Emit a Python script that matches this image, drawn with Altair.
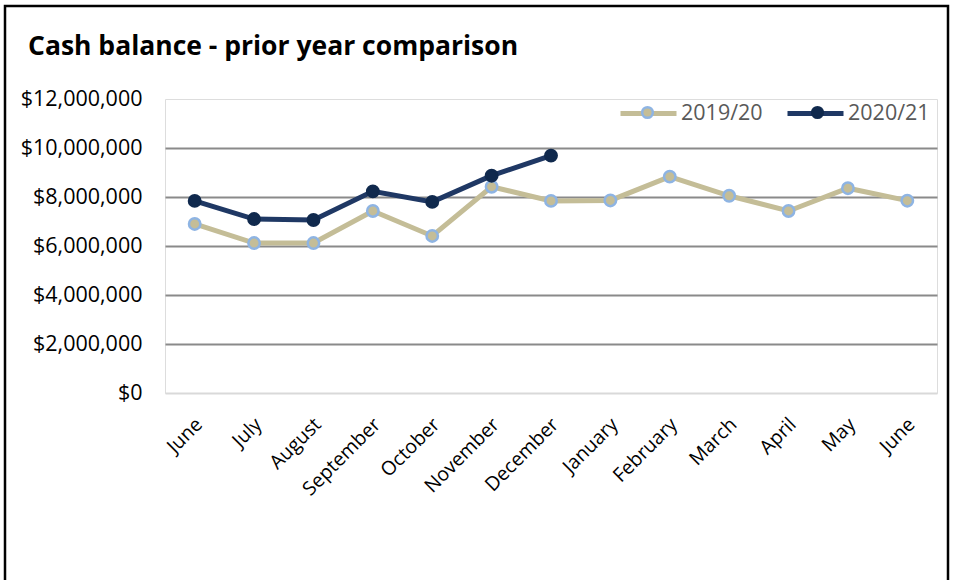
import altair as alt
import pandas as pd

months = ["June", "July", "August", "September", "October", "November", "December",
          "January", "February", "March", "April", "May", "June"]
series_names = ["2019/20", "2020/21"]
prior_year = [6900000, 6120000, 6120000, 7430000, 6410000, 8420000, 7840000,
              7860000, 8830000, 8050000, 7430000, 8360000, 7850000]
current_year = [7840000, 7100000, 7060000, 8230000, 7800000, 8870000, 9690000]
y_ticks = [0, 2000000, 4000000, 6000000, 8000000, 10000000, 12000000]

line_colors = ["#c4bd97", "#1f3864"]
marker_fills = ["#c4bd97", "#10294d"]
marker_strokes = ["#8eb4e3", "#10294d"]

keys = [f"{i:02d}|{m}" for i, m in enumerate(months)]
rows = []
for name, vals in zip(series_names, [prior_year, current_year]):
    for k, v in zip(keys, vals):
        rows.append({"month": k, "series": name, "series_pt": name, "value": v})
df = pd.DataFrame(rows)

FONT = "Open Sans"

x_enc = alt.X("month:N", sort=keys, title=None,
              scale=alt.Scale(type="point", padding=0.5),
              axis=alt.Axis(labelExpr="split(datum.value, '|')[1]", labelAngle=-45,
                            labelAlign="right", labelBaseline="middle",
                            labelPadding=28, labelOffset=4, ticks=False,
                            domainColor="#d9d9d9", domainWidth=2,
                            labelFont=FONT, labelFontSize=19.5, labelColor="#000000"))
y_enc = alt.Y("value:Q", title=None,
              scale=alt.Scale(domain=[0, 12000000], nice=False),
              axis=alt.Axis(values=y_ticks, format="$,.0f", domain=False, ticks=False,
                            tickSize=0, labelPadding=23,
                            labelFont=FONT, labelFontSize=21.5, labelColor="#000000",
                            gridColor={"condition": {"test": "datum.value >= 12000000 || datum.value <= 0",
                                                     "value": "transparent"},
                                       "value": "#8a8a8a"},
                            gridWidth=2))

base = alt.Chart(df)

lines = base.mark_line(strokeWidth=5).encode(
    x=x_enc, y=y_enc,
    color=alt.Color("series:N", title=None,
                    scale=alt.Scale(domain=series_names, range=line_colors),
                    legend=alt.Legend(orient="none", direction="horizontal",
                                      legendX=453, legendY=-16, padding=0,
                                      symbolType="M-1,0H1", symbolSize=3136,
                                      symbolStrokeWidth=5, labelOffset=2,
                                      columnPadding=14,
                                      labelFont=FONT, labelFontSize=21.5,
                                      labelColor="#595959")),
    detail="series:N",
)

points = base.mark_point(filled=True, size=130, strokeWidth=2.5, opacity=1).encode(
    x=x_enc, y=y_enc,
    fill=alt.Fill("series_pt:N", title=None,
                  scale=alt.Scale(domain=series_names, range=marker_fills),
                  legend=alt.Legend(orient="none", direction="horizontal",
                                    legendX=453, legendY=-16, padding=0,
                                    symbolType="M0.19,0A0.19,0.19 0 1,1 -0.19,0A0.19,0.19 0 1,1 0.19,0Z",
                                    symbolSize=3136, symbolStrokeWidth=2.5,
                                    labelOffset=0, labelExpr="''",
                                    columnPadding=111,
                                    labelFont=FONT, labelFontSize=21.5)),
    stroke=alt.Stroke("series_pt:N", title=None,
                      scale=alt.Scale(domain=series_names, range=marker_strokes),
                      legend=None),
)

frame = alt.Chart(pd.DataFrame({"f": [0]})).mark_rect(
    fill=None, stroke="#000000", strokeWidth=2.5
).encode(x=alt.value(-160), x2=alt.value(783), y=alt.value(-93), y2=alt.value(495))

chart = alt.layer(frame, lines, points).resolve_scale(
    color="independent", fill="independent", stroke="independent"
).resolve_legend(color="independent", fill="independent", stroke="independent").properties(
    width=772, height=294,
    autosize=alt.AutoSizeParams(type="none"),
    padding={"left": 165, "top": 99, "right": 17, "bottom": 187},
    title=alt.TitleParams("Cash balance - prior year comparison", anchor="start",
                          frame="group", dx=-137, dy=60, font=FONT, fontSize=26.5,
                          fontWeight="bold", color="#000000"),
).configure_view(stroke="#d3dff0", strokeWidth=2).configure(background="white")

chart.save("out.html", embed_options={"renderer": "svg", "actions": False})
